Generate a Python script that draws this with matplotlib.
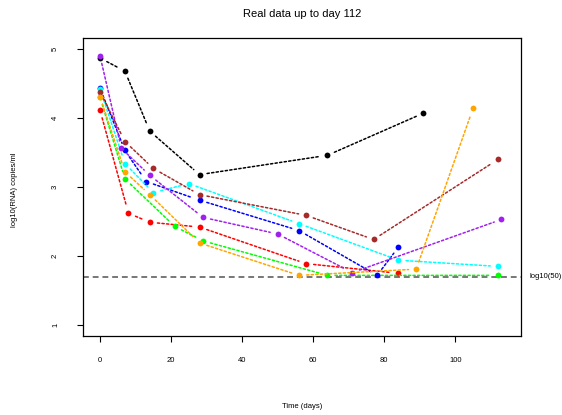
import matplotlib
matplotlib.use('Agg')
import matplotlib.pyplot as plt

plt.rcParams['font.family'] = ['Liberation Sans', 'DejaVu Sans']

# patients: days since start and log10 viral load
black_days = [0, 7, 14, 28, 64, 91]
black_vals = [4.87, 4.68, 3.81, 3.18, 3.46, 4.07]

red_days = [0, 8, 14, 28, 58, 84]
red_vals = [4.11, 2.62, 2.49, 2.42, 1.89, 1.75]

green_days = [0, 7, 21, 29, 64, 112]
green_vals = [4.30, 3.12, 2.43, 2.22, 1.72, 1.72]

blue_days = [0, 7, 13, 28, 56, 78, 84]
blue_vals = [4.43, 3.53, 3.08, 2.81, 2.37, 1.72, 2.13]

cyan_days = [0, 7, 15, 25, 56, 84, 112]
cyan_vals = [4.42, 3.34, 2.92, 3.05, 2.47, 1.94, 1.85]

purple_days = [0, 6, 14, 29, 50, 71, 113]
purple_vals = [4.90, 3.56, 3.17, 2.56, 2.32, 1.76, 2.53]

brown_days = [0, 7, 15, 28, 58, 77, 112]
brown_vals = [4.38, 3.66, 3.27, 2.89, 2.59, 2.24, 3.40]

orange_days = [0, 7, 14, 28, 56, 89, 105]
orange_vals = [4.31, 3.22, 2.89, 2.19, 1.72, 1.81, 4.14]

detect_limit = 1.699  # log10(50)

series = [
    (black_days, black_vals, 'black'),
    (red_days, red_vals, '#FF0000'),
    (green_days, green_vals, '#00FF00'),
    (blue_days, blue_vals, '#0000FF'),
    (cyan_days, cyan_vals, '#00FFFF'),
    (purple_days, purple_vals, '#A020F0'),
    (brown_days, brown_vals, '#A52A2A'),
    (orange_days, orange_vals, '#FFA500'),
]

fig = plt.figure(figsize=(5.62, 4.15), dpi=100)
ax = fig.add_axes([0.1477, 0.191, 0.7793, 0.718])

ax.axhline(detect_limit, color='#777777', lw=1.4, dashes=(3, 2), zorder=1)

# R type="b": points joined by lines that stop short of each point
for days, vals, col in series:
    for i in range(len(days) - 1):
        ax.annotate('', xy=(days[i + 1], vals[i + 1]), xytext=(days[i], vals[i]),
                    arrowprops=dict(arrowstyle='-', color=col, lw=1.1,
                                    linestyle=(0, (1.5, 1.5)),
                                    shrinkA=5.5, shrinkB=5.5))
    ax.plot(days, vals, 'o', color=col, ms=4.2, mew=0, zorder=3)

ax.set_xlim(-4.8, 118.5)
ax.set_ylim(0.845, 5.164)
ax.set_xticks([0, 20, 40, 60, 80, 100])
ax.set_yticks([1, 2, 3, 4, 5])
ax.tick_params(labelsize=5.5, length=4.3, width=0.8, direction='out')
ax.tick_params(axis='x', pad=11)
ax.tick_params(axis='y', pad=13)
for lab in ax.get_yticklabels():
    lab.set_rotation(90)
    lab.set_va('center')
for s in ax.spines.values():
    s.set_linewidth(0.9)

ax.text(121, detect_limit, 'log10(50)', fontsize=5.5, va='center', ha='left',
        clip_on=False)

ax.set_xlabel('Time (days)', fontsize=5.5)
ax.xaxis.set_label_coords(0.5, -0.226)
ax.set_ylabel('log10(RNA) copies/ml', fontsize=5.5)
ax.yaxis.set_label_coords(-0.148, 0.49)
ax.text(0.5, 1.0795, 'Real data up to day 112', fontsize=8, ha='center',
        va='center', transform=ax.transAxes)

plt.savefig('out.png', dpi=100)
